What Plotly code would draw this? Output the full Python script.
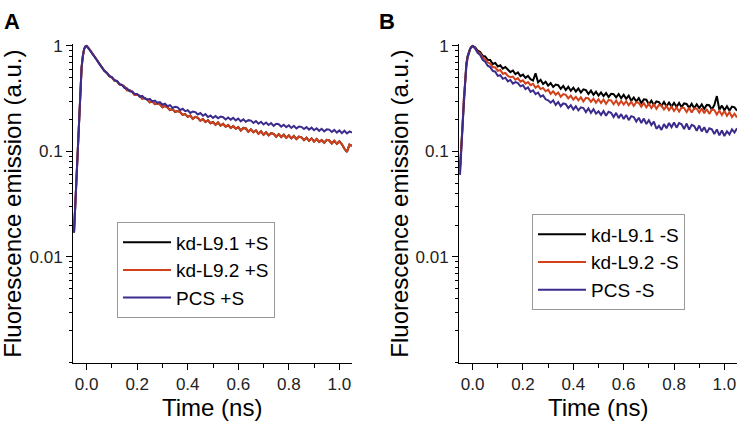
import plotly.graph_objects as go

# ---------------- data ----------------
RISE_T = [-0.05, -0.045, -0.04, -0.035, -0.03, -0.025, -0.02, -0.015, -0.01, -0.005, 0.0]
DECAY_T = [round(0.01 * i, 2) for i in range(1, 106)]
TIME_NS = RISE_T + DECAY_T

# Panel A (+S)
kd92_A = [
    0.017, 0.03, 0.057, 0.13, 0.22, 0.40, 0.62, 0.80, 0.93, 0.985, 1.0,
    0.94, 0.868, 0.792, 0.735, 0.671, 0.632, 0.58, 0.556, 0.516, 0.502,
    0.47, 0.465, 0.432, 0.426, 0.41, 0.381, 0.38, 0.367, 0.343, 0.345,
    0.336, 0.316, 0.321, 0.311, 0.292, 0.298, 0.281, 0.286, 0.279, 0.262,
    0.27, 0.261, 0.247, 0.252, 0.237, 0.242, 0.236, 0.222, 0.226, 0.213,
    0.219, 0.204, 0.213, 0.208, 0.196, 0.203, 0.19, 0.197, 0.185, 0.19,
    0.179, 0.188, 0.176, 0.183, 0.172, 0.178, 0.167, 0.174, 0.164, 0.17,
    0.158, 0.167, 0.165, 0.154, 0.162, 0.152, 0.158, 0.147, 0.155, 0.144,
    0.152, 0.142, 0.149, 0.147, 0.138, 0.146, 0.137, 0.144, 0.135, 0.142,
    0.133, 0.14, 0.131, 0.138, 0.136, 0.128, 0.135, 0.126, 0.133, 0.124,
    0.131, 0.123, 0.128, 0.121, 0.129, 0.127, 0.119, 0.126, 0.118, 0.125,
    0.117, 0.106, 0.099, 0.116, 0.113,
]
kd91_A = list(kd92_A)  # black trace lies hidden beneath the red one
pcs_A = [
    0.017, 0.032, 0.06, 0.135, 0.23, 0.41, 0.63, 0.81, 0.94, 0.99, 1.0,
    0.928, 0.864, 0.796, 0.736, 0.676, 0.63, 0.58, 0.556, 0.52, 0.506,
    0.474, 0.466, 0.434, 0.426, 0.399, 0.396, 0.372, 0.371, 0.35, 0.351,
    0.33, 0.336, 0.318, 0.31, 0.315, 0.298, 0.303, 0.289, 0.294, 0.277,
    0.284, 0.268, 0.275, 0.259, 0.265, 0.262, 0.247, 0.254, 0.241, 0.246,
    0.232, 0.239, 0.236, 0.224, 0.231, 0.218, 0.226, 0.212, 0.219, 0.208,
    0.217, 0.206, 0.214, 0.211, 0.201, 0.21, 0.20, 0.208, 0.197, 0.205,
    0.193, 0.202, 0.191, 0.198, 0.196, 0.186, 0.194, 0.183, 0.191, 0.18,
    0.188, 0.178, 0.186, 0.175, 0.183, 0.181, 0.172, 0.179, 0.17, 0.177,
    0.167, 0.175, 0.165, 0.172, 0.171, 0.163, 0.17, 0.161, 0.168, 0.159,
    0.166, 0.157, 0.164, 0.155, 0.162, 0.161, 0.153, 0.16, 0.151, 0.158,
    0.149, 0.157, 0.148, 0.155, 0.151,
]

# Panel B (-S)
kd91_B = [
    0.07, 0.11, 0.20, 0.34, 0.52, 0.68, 0.80, 0.88, 0.94, 0.98, 1.0,
    0.97, 0.905, 0.875, 0.805, 0.795, 0.74, 0.735, 0.675, 0.69, 0.64,
    0.655, 0.61, 0.632, 0.598, 0.565, 0.585, 0.54, 0.562, 0.518, 0.535,
    0.498, 0.52, 0.485, 0.47, 0.55, 0.452, 0.478, 0.436, 0.458, 0.421,
    0.445, 0.408, 0.43, 0.425, 0.392, 0.418, 0.382, 0.41, 0.376, 0.402,
    0.37, 0.395, 0.362, 0.388, 0.381, 0.35, 0.377, 0.344, 0.368, 0.339,
    0.362, 0.335, 0.358, 0.328, 0.352, 0.349, 0.326, 0.35, 0.32, 0.344,
    0.315, 0.338, 0.302, 0.325, 0.298, 0.32, 0.288, 0.312, 0.309, 0.28,
    0.303, 0.276, 0.298, 0.294, 0.27, 0.295, 0.268, 0.291, 0.266, 0.289,
    0.265, 0.288, 0.263, 0.285, 0.282, 0.259, 0.283, 0.257, 0.28, 0.258,
    0.279, 0.253, 0.276, 0.274, 0.25, 0.275, 0.335, 0.248, 0.272, 0.246,
    0.268, 0.244, 0.266, 0.262, 0.243,
]
kd92_B = [
    0.065, 0.10, 0.18, 0.31, 0.48, 0.64, 0.78, 0.87, 0.93, 0.98, 1.0,
    0.955, 0.88, 0.85, 0.778, 0.75, 0.70, 0.68, 0.632, 0.625, 0.58,
    0.592, 0.545, 0.555, 0.52, 0.505, 0.512, 0.478, 0.495, 0.458, 0.472,
    0.44, 0.455, 0.425, 0.438, 0.402, 0.42, 0.39, 0.40, 0.372, 0.385,
    0.352, 0.372, 0.345, 0.362, 0.33, 0.35, 0.344, 0.318, 0.338, 0.31,
    0.33, 0.305, 0.326, 0.298, 0.322, 0.318, 0.295, 0.316, 0.29, 0.313,
    0.288, 0.31, 0.283, 0.307, 0.305, 0.28, 0.304, 0.277, 0.301, 0.278,
    0.299, 0.274, 0.296, 0.27, 0.293, 0.289, 0.266, 0.288, 0.262, 0.284,
    0.258, 0.28, 0.254, 0.276, 0.273, 0.25, 0.27, 0.246, 0.266, 0.242,
    0.262, 0.239, 0.261, 0.258, 0.236, 0.26, 0.234, 0.257, 0.255, 0.233,
    0.255, 0.23, 0.252, 0.227, 0.25, 0.247, 0.224, 0.244, 0.221, 0.242,
    0.218, 0.236, 0.212, 0.228, 0.21,
]
pcs_B = [
    0.06, 0.09, 0.17, 0.30, 0.47, 0.63, 0.77, 0.87, 0.93, 0.98, 1.0,
    0.945, 0.86, 0.82, 0.74, 0.71, 0.65, 0.63, 0.58, 0.57, 0.52,
    0.528, 0.488, 0.50, 0.462, 0.476, 0.44, 0.455, 0.445, 0.415, 0.425,
    0.39, 0.405, 0.368, 0.38, 0.35, 0.362, 0.33, 0.34, 0.312, 0.305,
    0.29, 0.305, 0.276, 0.295, 0.268, 0.285, 0.281, 0.258, 0.274, 0.25,
    0.268, 0.245, 0.262, 0.258, 0.236, 0.256, 0.232, 0.252, 0.228, 0.24,
    0.222, 0.242, 0.218, 0.238, 0.233, 0.212, 0.232, 0.207, 0.226, 0.203,
    0.222, 0.198, 0.216, 0.212, 0.192, 0.209, 0.186, 0.205, 0.182, 0.198,
    0.178, 0.192, 0.164, 0.175, 0.16, 0.182, 0.166, 0.186, 0.17, 0.188,
    0.168, 0.186, 0.181, 0.163, 0.184, 0.161, 0.179, 0.174, 0.157, 0.176,
    0.155, 0.17, 0.15, 0.166, 0.162, 0.146, 0.162, 0.142, 0.158, 0.14,
    0.155, 0.145, 0.162, 0.151, 0.166,
]

NAMES_A = ["kd-L9.1 +S", "kd-L9.2 +S", "PCS +S"]
NAMES_B = ["kd-L9.1 -S", "kd-L9.2 -S", "PCS -S"]
Y_TICKS = [0.01, 0.1, 1]
Y_TICK_TEXT = ["0.01", "0.1", "1"]
X_TITLE = "Time (ns)"
Y_TITLE = "Fluorescence emission (a.u.)"

COLORS = ["#000000", "#d2401c", "#3b2b8c"]
FONT = "Arial, Liberation Sans, sans-serif"

fig = go.Figure()
for name, ys, col in zip(NAMES_A, [kd91_A, kd92_A, pcs_A], COLORS):
    fig.add_trace(go.Scatter(x=TIME_NS, y=ys, name=name, mode="lines",
                             line=dict(color=col, width=2), xaxis="x", yaxis="y",
                             legend="legend"))
for name, ys, col in zip(NAMES_B, [kd91_B, kd92_B, pcs_B], COLORS):
    fig.add_trace(go.Scatter(x=TIME_NS, y=ys, name=name, mode="lines",
                             line=dict(color=col, width=2), xaxis="x2", yaxis="y2",
                             legend="legend2"))

ydom = [(421 - 362) / 421, (421 - 38) / 421]
xcommon = dict(range=[-0.054, 1.05], tick0=0, dtick=0.2, tickformat=".1f",
               ticks="outside", ticklen=6, tickwidth=1, tickcolor="black",
               showline=True, linecolor="black", linewidth=1, showgrid=False,
               zeroline=False, tickfont=dict(family=FONT, size=17, color="#222"),
               minor=dict(ticks="outside", ticklen=4, dtick=0.1, tickcolor="black"))
ycommon = dict(type="log", range=[-3.005, 0.015], tickvals=Y_TICKS, ticktext=Y_TICK_TEXT,
               ticks="outside", ticklen=6, tickwidth=1, tickcolor="black",
               showline=True, linecolor="black", linewidth=1, showgrid=False,
               zeroline=False, tickfont=dict(family=FONT, size=17, color="#222"),
               minor=dict(ticks="outside", ticklen=3, dtick="D1", tickcolor="black"),
               domain=ydom)

legcommon = dict(bgcolor="white", bordercolor="#999", borderwidth=1,
                 font=dict(family=FONT, size=19, color="black"),
                 xanchor="left", yanchor="top", itemwidth=48,
                 tracegroupgap=0)

fig.update_layout(
    width=740, height=421, margin=dict(l=0, r=0, t=0, b=0),
    paper_bgcolor="white", plot_bgcolor="white",
    showlegend=True,
    xaxis=dict(domain=[73 / 740, 352 / 740], anchor="y", **xcommon),
    yaxis=dict(anchor="x", **ycommon),
    xaxis2=dict(domain=[459 / 740, 737 / 740], anchor="y2", **xcommon),
    yaxis2=dict(anchor="x2", **ycommon),
    legend=dict(x=117 / 740, y=(421 - 219) / 421, **legcommon),
    legend2=dict(x=532 / 740, y=(421 - 211) / 421, **legcommon),
)

ann = []
for xc in [212, 598]:
    ann.append(dict(text=X_TITLE, x=xc / 740, y=(421 - 407) / 421, xref="paper", yref="paper",
                    showarrow=False, font=dict(family=FONT, size=24, color="black"),
                    xanchor="center", yanchor="middle"))
for xc in [13, 400]:
    ann.append(dict(text=Y_TITLE, x=xc / 740, y=(421 - 200) / 421, xref="paper", yref="paper",
                    showarrow=False, textangle=-90, font=dict(family=FONT, size=24, color="black"),
                    xanchor="center", yanchor="middle"))
for lab, xc in [("A", 12), ("B", 387)]:
    ann.append(dict(text="<b>%s</b>" % lab, x=xc / 740, y=(421 - 15) / 421, xref="paper", yref="paper",
                    showarrow=False, font=dict(family=FONT, size=22, color="black"),
                    xanchor="center", yanchor="middle"))
fig.update_layout(annotations=ann)

fig.write_html("out.html", config={"displayModeBar": False},
               post_script="document.body.style.margin='0px';document.body.style.overflow='hidden';")
